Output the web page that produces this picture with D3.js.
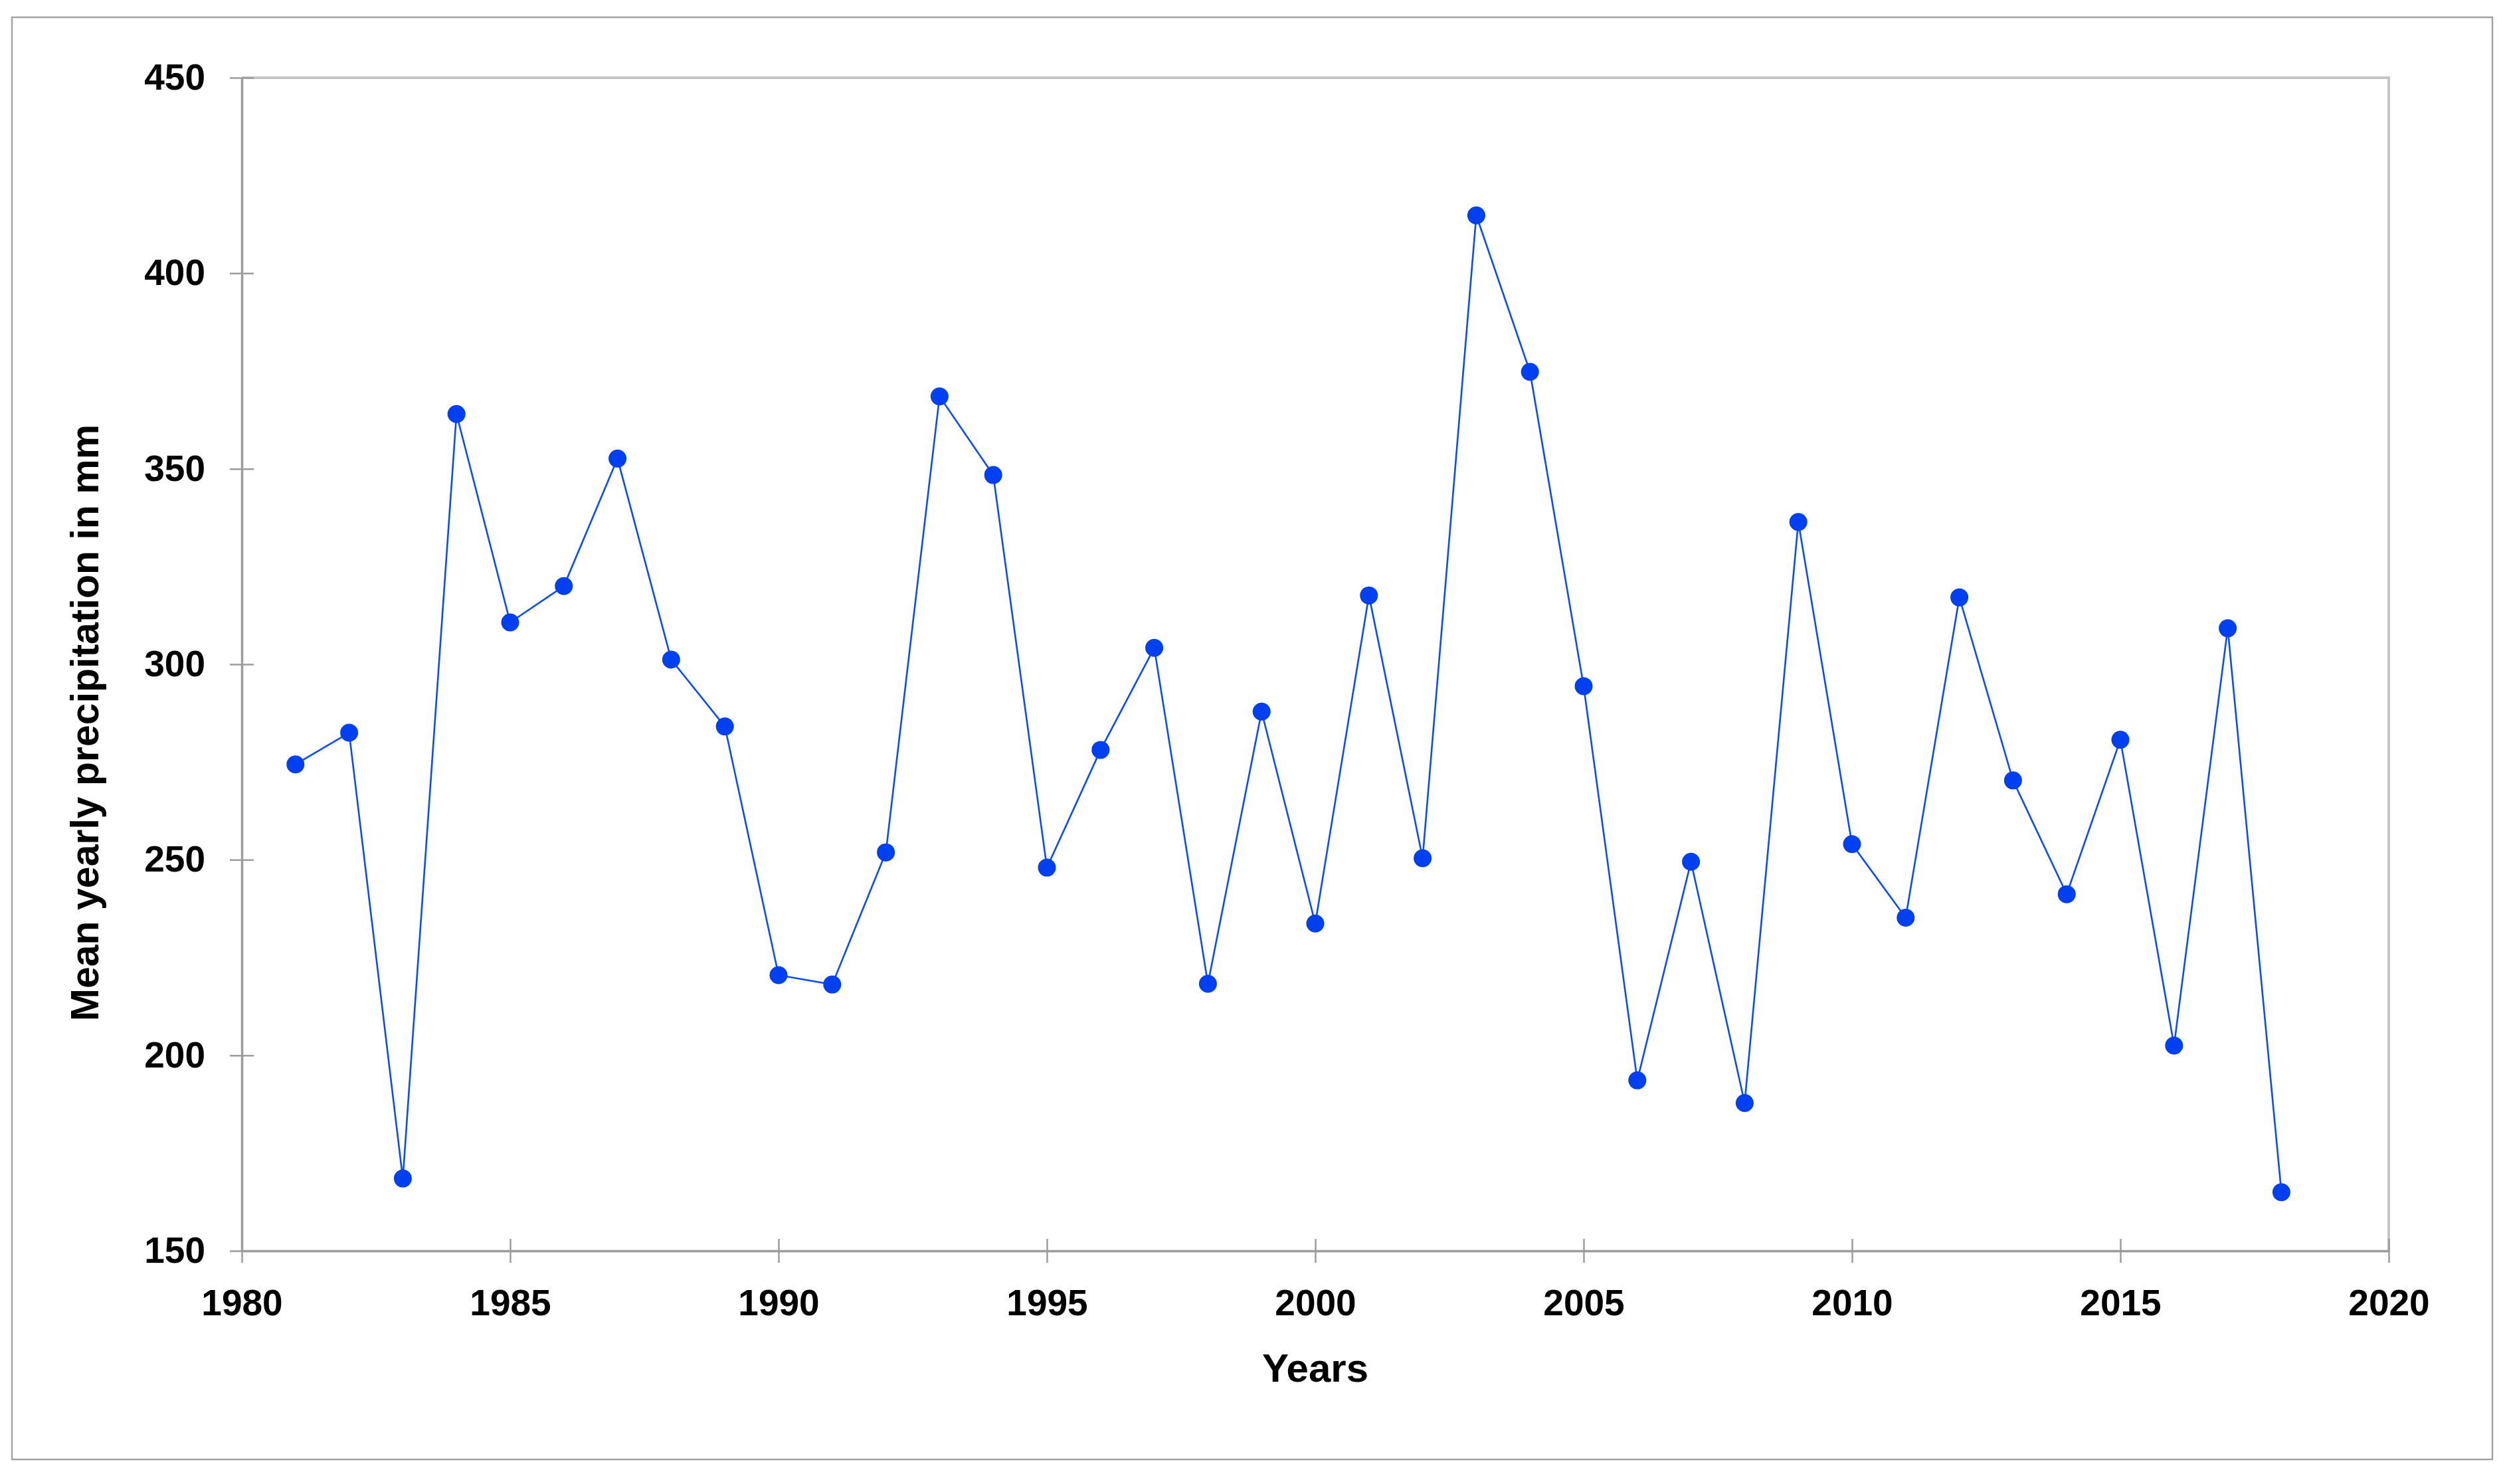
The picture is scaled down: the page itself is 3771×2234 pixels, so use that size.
<!DOCTYPE html>
<html>
<head>
<meta charset="utf-8">
<title>Mean yearly precipitation</title>
<script src="https://cdn.jsdelivr.net/npm/d3@7"></script>
<style>
  body { margin: 0; background: #fff; }
  svg { display: block; }
  .axis text { font-family: "Liberation Sans", Arial, sans-serif; font-weight: bold; fill: #000; }
  .title { font-family: "Liberation Sans", Arial, sans-serif; font-weight: bold; fill: #000; }
</style>
</head>
<body>
<script>
// data
const years = [1981, 1982, 1983, 1984, 1985, 1986, 1987, 1988, 1989, 1990,
               1991, 1992, 1993, 1994, 1995, 1996, 1997, 1998, 1999, 2000,
               2001, 2002, 2003, 2004, 2005, 2006, 2007, 2008, 2009, 2010,
               2011, 2012, 2013, 2014, 2015, 2016, 2017, 2018];
const precipitation = [274.4, 282.5, 168.5, 364, 310.7, 320, 352.6, 301.2, 284.1, 220.5,
                       218.1, 251.9, 368.5, 348.4, 248, 278.1, 304.2, 218.3, 287.9, 233.7,
                       317.6, 250.4, 414.8, 374.8, 294.4, 193.6, 249.5, 187.8, 336.4, 254,
                       235.2, 317.1, 270.3, 241.2, 280.7, 202.5, 309.2, 165];
const xTicks = [1980, 1985, 1990, 1995, 2000, 2005, 2010, 2015, 2020];
const yTicks = [150, 200, 250, 300, 350, 400, 450];

const data = years.map((yr, i) => ({year: yr, value: precipitation[i]}));

drawChart(data);

function drawChart(data){
  const W = 3771, H = 2234;
  // plot area edges (pixels)
  const left = 364, right = 3596, top = 117, bottom = 1883;

  const svg = d3.select('body').append('svg')
    .attr('width', W)
    .attr('height', H);

  // outer frame
  svg.append('rect')
    .attr('x', 18).attr('y', 26)
    .attr('width', 3734).attr('height', 2171)
    .attr('fill', 'none')
    .attr('stroke', '#a3a3a3')
    .attr('stroke-width', 2.5);

  const xScale = d3.scaleLinear()
    .domain([1980, 2020])
    .range([left, right]);

  const yScale = d3.scaleLinear()
    .domain([150, 450])
    .range([bottom, top]);

  // light top + right border of plot area
  svg.append('path')
    .attr('d', `M${xScale(1980)},${yScale(450)}H${xScale(2020)}V${yScale(150)}`)
    .attr('fill', 'none')
    .attr('stroke', '#c4c4c4')
    .attr('stroke-width', 4);

  const tick = 18;

  // y axis
  const yAxisGroup = svg.append('g')
    .attr('class', 'axis y-axis')
    .attr('transform', `translate(${left},0)`)
    .call(d3.axisLeft(yScale).tickValues(yTicks).tickSize(tick).tickSizeOuter(0).tickPadding(37));

  // x axis
  const xAxisGroup = svg.append('g')
    .attr('class', 'axis x-axis')
    .attr('transform', `translate(0,${bottom})`)
    .call(d3.axisBottom(xScale).tickValues(xTicks).tickFormat(d3.format('d'))
      .tickSize(tick).tickSizeOuter(0).tickPadding(40));

  // ticks cross the axis line
  yAxisGroup.selectAll('.tick line').attr('x1', tick).attr('x2', -tick);
  xAxisGroup.selectAll('.tick line').attr('y1', -tick).attr('y2', tick);

  svg.selectAll('.axis .domain')
    .attr('stroke', '#9c9c9c')
    .attr('stroke-width', 3.5);
  svg.selectAll('.axis .tick line')
    .attr('stroke', '#9c9c9c')
    .attr('stroke-width', 2.5);
  svg.selectAll('.axis text')
    .attr('font-size', 55);

  // axis titles
  svg.append('text')
    .attr('class', 'title')
    .attr('x', (left + right) / 2)
    .attr('y', 2080)
    .attr('text-anchor', 'middle')
    .attr('font-size', 60)
    .text('Years');

  svg.append('text')
    .attr('class', 'title')
    .attr('transform', `translate(148, ${(top + bottom) / 2 + 88}) rotate(-90)`)
    .attr('text-anchor', 'middle')
    .attr('font-size', 59)
    .text('Mean yearly precipitation in mm');

  // the series line
  const line = d3.line()
    .x(d => xScale(d.year))
    .y(d => yScale(d.value));

  svg.append('path')
    .datum(data)
    .attr('d', line)
    .attr('fill', 'none')
    .attr('stroke', '#0a4cf5')
    .attr('stroke-width', 2.6);

  // markers
  svg.selectAll('circle.pt')
    .data(data)
    .enter()
  .append('circle')
    .attr('class', 'pt')
    .attr('cx', d => xScale(d.year))
    .attr('cy', d => yScale(d.value))
    .attr('r', 13.5)
    .attr('fill', '#0040f0');
}
</script>
</body>
</html>
